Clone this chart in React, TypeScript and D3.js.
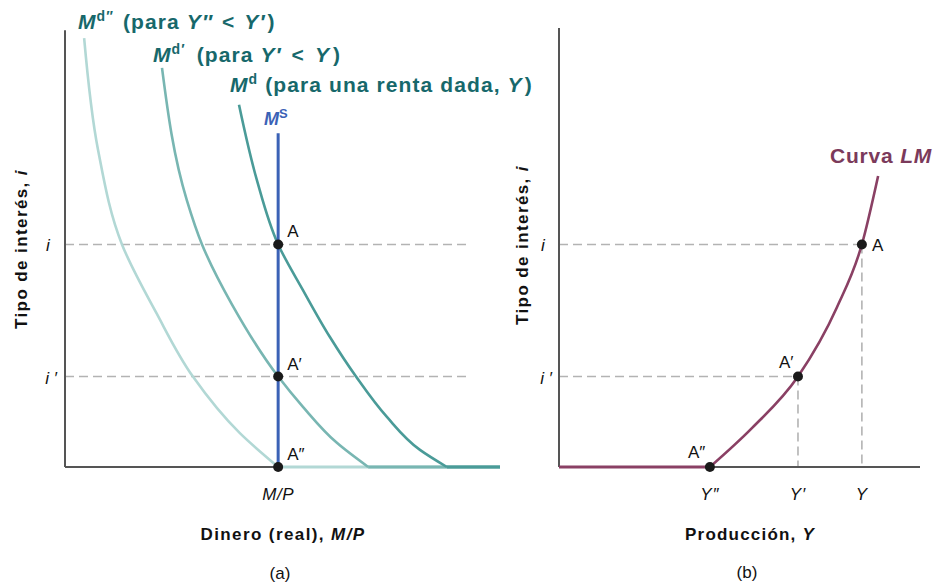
import React from "react";
import * as d3 from "d3";

// ---- data (abstract units: money / output 0..100, interest rate 0..100) ----
const iHigh = 50.7; // i
const iLow = 20.6; // i'
const moneySupply = 49; // M/P
const msTop = 76;

const mdX = [40.0, 44.1, 49.0, 54.7, 60.9, 66.9, 74.0, 81.6, 87.8];
const mdI = [82.5, 65.4, 50.7, 40.3, 29.6, 20.6, 11.4, 3.9, 0];
const mdPX = [22.3, 28.0, 31.5, 38.4, 49.0, 54.7, 62.5, 69.7];
const mdPI = [90.9, 60.8, 50.7, 37.0, 20.6, 13.7, 5.5, 0];
const mdPPX = [4.4, 7.6, 13.1, 21.0, 29.4, 40.2, 49.0];
const mdPPI = [97.7, 72.2, 50.7, 35.1, 20.6, 7.7, 0];
const tailEnd = 100;

const lmX = [41.8, 53.5, 66.2, 77.0, 83.9, 88.4];
const lmI = [0, 8.9, 20.6, 36.4, 50.7, 66.3];
const outputLevels = [41.8, 66.2, 83.9]; // Y'', Y', Y
const outputLabels = ["Y″", "Y′", "Y"];
const pointLabels = ["A″", "A′", "A"];
const rateLevels = [0, iLow, iHigh];

const FONT = "'Liberation Sans', Arial, Helvetica, sans-serif";
const TEAL_TEXT = "#17686b";
const C_MD = "#4a9b98";
const C_MDP = "#78b6b2";
const C_MDPP = "#b2d8d5";
const C_MS = "#3b62b6";
const C_LM = "#8a4064";
const C_LM_TEXT = "#7b3a5b";
const C_AXIS = "#555";
const C_DASH = "#b3b3b3";

const zip = (xs: number[], ys: number[]) => xs.map((x, k) => [x, ys[k]] as [number, number]);

export default function App() {
  const y = d3.scaleLinear().domain([0, 100]).range([467, 28]);
  const xL = d3.scaleLinear().domain([0, 100]).range([65, 500]);
  const xR = d3.scaleLinear().domain([0, 100]).range([559, 920]);

  const lineL = d3
    .line<[number, number]>()
    .x((d) => xL(d[0]))
    .y((d) => y(d[1]))
    .curve(d3.curveMonotoneY);
  const lineR = d3
    .line<[number, number]>()
    .x((d) => xR(d[0]))
    .y((d) => y(d[1]))
    .curve(d3.curveMonotoneX);

  const mdCurves = [
    { xs: mdPPX, is: mdPPI, c: C_MDPP },
    { xs: mdPX, is: mdPI, c: C_MDP },
    { xs: mdX, is: mdI, c: C_MD },
  ];

  const dashL = xL(92.4);
  const LS = 1.1;

  return (
    <svg
      width={952}
      height={584}
      style={{ position: "fixed", left: 0, top: 0, background: "#fff" }}
      fontFamily={FONT}
    >
      <rect width={952} height={584} fill="#fff" />
      {/* ---------- Panel (a) ---------- */}
      {[iHigh, iLow].map((v) => (
        <line
          key={"dl" + v}
          x1={xL(0)}
          x2={dashL}
          y1={y(v)}
          y2={y(v)}
          stroke={C_DASH}
          strokeWidth={1.6}
          strokeDasharray="9 5"
        />
      ))}
      <line x1={xL(0)} x2={xL(0)} y1={y(0)} y2={y(99.5)} stroke={C_AXIS} strokeWidth={2} />
      <line x1={xL(0)} x2={xL(tailEnd)} y1={y(0)} y2={y(0)} stroke={C_AXIS} strokeWidth={2} />
      {mdCurves.map((m, k) => (
        <g key={"md" + k}>
          <path d={lineL(zip(m.xs, m.is)) || ""} fill="none" stroke={m.c} strokeWidth={2.6} />
          <line
            x1={xL(m.xs[m.xs.length - 1])}
            x2={xL(tailEnd)}
            y1={y(0)}
            y2={y(0)}
            stroke={m.c}
            strokeWidth={3}
          />
        </g>
      ))}
      <line
        x1={xL(moneySupply)}
        x2={xL(moneySupply)}
        y1={y(0)}
        y2={y(msTop)}
        stroke={C_MS}
        strokeWidth={3}
      />
      {rateLevels.map((v, k) => (
        <g key={"pa" + k}>
          <circle cx={xL(moneySupply)} cy={y(v)} r={5} fill="#1a1a1a" />
          <text x={xL(moneySupply) + 9} y={y(v) - 7} fontSize={17} fill="#111">
            {pointLabels[k]}
          </text>
        </g>
      ))}
      {/* tick labels */}
      <text x={48} y={y(iHigh) + 7} fontSize={17} fontStyle="italic" textAnchor="middle" fill="#111">
        i
      </text>
      <text x={51} y={y(iLow) + 7} fontSize={17} fontStyle="italic" textAnchor="middle" fill="#111">
        i ′
      </text>
      <text x={xL(moneySupply)} y={500} fontSize={17} fontStyle="italic" textAnchor="middle" fill="#111" letterSpacing={0.5}>
        M/P
      </text>
      <text x={283} y={540} fontSize={17} fontWeight="bold" textAnchor="middle" fill="#111" letterSpacing={1.4}>
        Dinero (real), <tspan fontStyle="italic">M/P</tspan>
      </text>
      <text x={280} y={579} fontSize={17} textAnchor="middle" fill="#111">
        (a)
      </text>
      <text
        transform="translate(27,249) rotate(-90)"
        fontSize={17}
        fontWeight="bold"
        textAnchor="middle"
        fill="#111"
        letterSpacing={1.4}
      >
        Tipo de interés, <tspan fontStyle="italic">i</tspan>
      </text>
      {/* curve labels */}
      <text x={78} y={29} fontSize={21} fontWeight="bold" fill={TEAL_TEXT} letterSpacing={LS}>
        <tspan fontStyle="italic">M</tspan>
        <tspan fontSize={14} dy={-8}>d″</tspan>
        <tspan dy={8} dx={2}> (para </tspan>
        <tspan fontStyle="italic">Y″</tspan>
        <tspan dx={2}> &lt; </tspan>
        <tspan fontStyle="italic" dx={2}>Y′</tspan>
        <tspan dx={2}>)</tspan>
      </text>
      <text x={153} y={62} fontSize={21} fontWeight="bold" fill={TEAL_TEXT} letterSpacing={LS}>
        <tspan fontStyle="italic">M</tspan>
        <tspan fontSize={14} dy={-8}>d′</tspan>
        <tspan dy={8} dx={4}> (para </tspan>
        <tspan fontStyle="italic">Y′</tspan>
        <tspan dx={3}> &lt; </tspan>
        <tspan fontStyle="italic" dx={3}>Y</tspan>
        <tspan dx={3}>)</tspan>
      </text>
      <text x={230} y={92} fontSize={21} fontWeight="bold" fill={TEAL_TEXT} letterSpacing={LS}>
        <tspan fontStyle="italic">M</tspan>
        <tspan fontSize={14} dy={-8}>d</tspan>
        <tspan dy={8}> (para una renta dada, </tspan>
        <tspan fontStyle="italic">Y</tspan>
        <tspan dx={2}>)</tspan>
      </text>
      <text x={264} y={125} fontSize={18} fontWeight="bold" fill={C_MS}>
        <tspan fontStyle="italic">M</tspan>
        <tspan fontSize={13} dy={-7}>S</tspan>
      </text>

      {/* ---------- Panel (b) ---------- */}
      {[
        { i: iHigh, x: outputLevels[2] },
        { i: iLow, x: outputLevels[1] },
      ].map((d, k) => (
        <g key={"dr" + k}>
          <line
            x1={xR(0)}
            x2={xR(d.x)}
            y1={y(d.i)}
            y2={y(d.i)}
            stroke={C_DASH}
            strokeWidth={1.6}
            strokeDasharray="9 5"
          />
          <line
            x1={xR(d.x)}
            x2={xR(d.x)}
            y1={y(d.i)}
            y2={y(0)}
            stroke={C_DASH}
            strokeWidth={1.6}
            strokeDasharray="9 5"
          />
        </g>
      ))}
      <line x1={xR(0)} x2={xR(0)} y1={y(0)} y2={y(100)} stroke={C_AXIS} strokeWidth={2} />
      <line x1={xR(0)} x2={xR(100)} y1={y(0)} y2={y(0)} stroke={C_AXIS} strokeWidth={2} />
      <line x1={xR(0)} x2={xR(lmX[0])} y1={y(0)} y2={y(0)} stroke={C_LM} strokeWidth={3} />
      <path d={lineR(zip(lmX, lmI)) || ""} fill="none" stroke={C_LM} strokeWidth={2.6} />
      {outputLevels.map((v, k) => (
        <g key={"pr" + k}>
          <circle cx={xR(v)} cy={y(rateLevels[k])} r={5} fill="#1a1a1a" />
          <text x={xR(v)} y={500} fontSize={17} fontStyle="italic" textAnchor="middle" fill="#111" letterSpacing={1}>
            {outputLabels[k]}
          </text>
        </g>
      ))}
      <text x={xR(outputLevels[0]) - 22} y={y(0) - 9} fontSize={17} fill="#111">
        {pointLabels[0]}
      </text>
      <text x={xR(outputLevels[1]) - 19} y={y(iLow) - 9} fontSize={17} fill="#111">
        {pointLabels[1]}
      </text>
      <text x={xR(outputLevels[2]) + 10} y={y(iHigh) + 7} fontSize={17} fill="#111">
        {pointLabels[2]}
      </text>
      <text x={543} y={y(iHigh) + 7} fontSize={17} fontStyle="italic" textAnchor="middle" fill="#111">
        i
      </text>
      <text x={546} y={y(iLow) + 7} fontSize={17} fontStyle="italic" textAnchor="middle" fill="#111">
        i ′
      </text>
      <text x={750} y={540} fontSize={17} fontWeight="bold" textAnchor="middle" fill="#111" letterSpacing={1.2}>
        Producción, <tspan fontStyle="italic">Y</tspan>
      </text>
      <text x={747} y={578} fontSize={17} textAnchor="middle" fill="#111">
        (b)
      </text>
      <text
        transform="translate(528,245) rotate(-90)"
        fontSize={17}
        fontWeight="bold"
        textAnchor="middle"
        fill="#111"
        letterSpacing={1.4}
      >
        Tipo de interés, <tspan fontStyle="italic">i</tspan>
      </text>
      <text x={830} y={163} fontSize={21} fontWeight="bold" fill={C_LM_TEXT} letterSpacing={0.8}>
        Curva <tspan fontStyle="italic">LM</tspan>
      </text>
    </svg>
  );
}
